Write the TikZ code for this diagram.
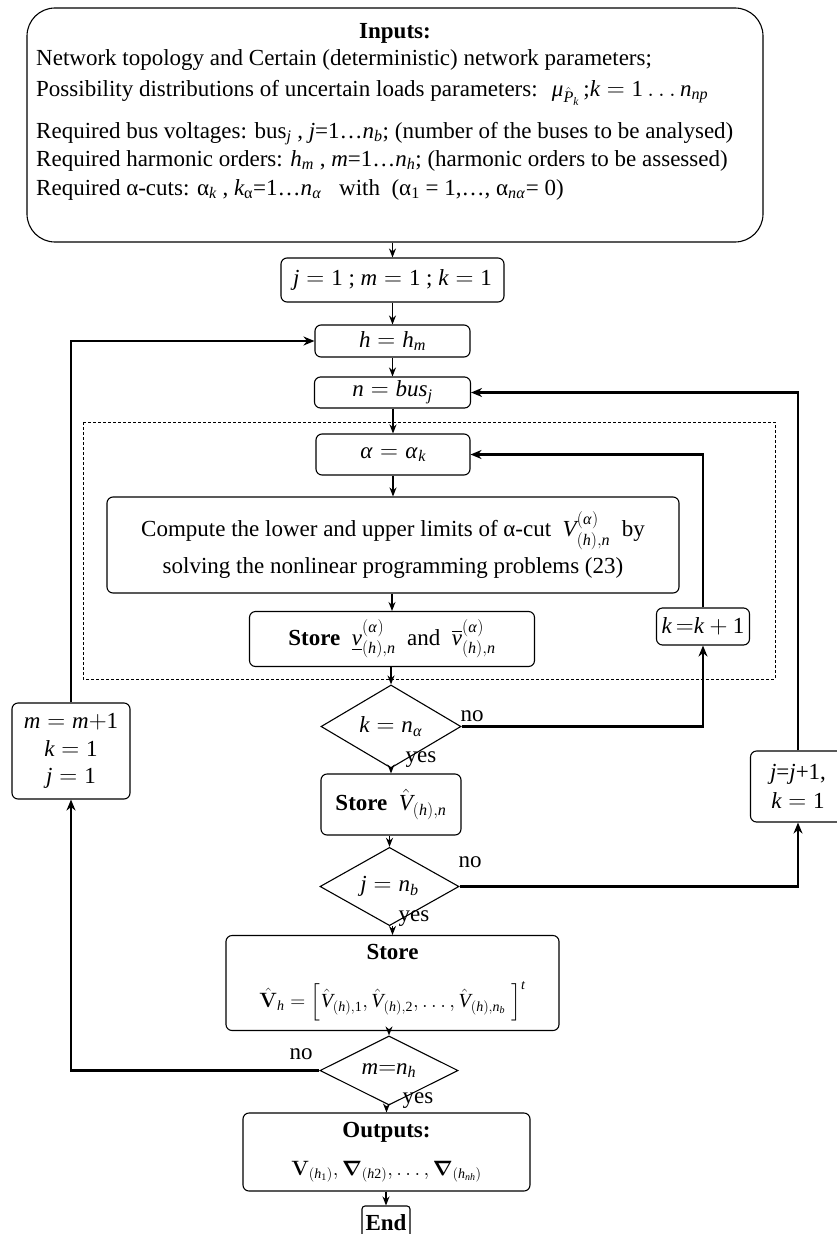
\documentclass[tikz,border=0pt]{standalone}
\usepackage{amsmath}
\usepackage{mathspec}
\setmainfont{Liberation Serif}
\setmathsfont(Digits,Latin,Greek){Liberation Serif}
\usetikzlibrary{shapes.geometric,arrows.meta}
\newcommand{\fs}{\fontsize{23}{27.5}\selectfont}
\tikzset{
 box/.style={draw, line width=1.1pt, rounded corners=6pt, inner sep=0pt, align=center, font=\fs},
 dia/.style={draw, diamond, line width=1.1pt, inner sep=0pt, font=\fs},
 arr/.style={-{Stealth[length=9pt,width=7pt]}, line width=1.3pt},
 loopline/.style={-{Stealth[length=11pt,width=9pt]}, line width=2.4pt},
 lbl/.style={inner sep=0pt, font=\fs},
 inline/.style={inner sep=0pt, anchor=base west, font=\fs},
}
\begin{document}
\begin{tikzpicture}[x=1pt,y=-1pt]
\useasboundingbox (0,0) rectangle (837,1234);
% Inputs
\node[draw, line width=1.1pt, rounded corners=28pt, minimum width=736pt, minimum height=234pt] (inp) at (395,125) {};
\node[inner sep=0pt, anchor=base, font=\fs\bfseries] (inpt) at (395,38) {Inputs:};
\node[inline] (l1) at (36,65) {Network topology and Certain (deterministic) network parameters;};
\node[inline] (l2) at (36,96) {Possibility distributions of uncertain loads parameters: \ $\mu_{\hat{P}_k}$\,;$k=1\ldots n_{np}$};
\node[inline] (l3) at (36,138) {Required bus voltages: bus$_j$ , $j$=1\ldots$n_b$; (number of the buses to be analysed)};
\node[inline] (l4) at (36,166) {Required harmonic orders: $h_m$ , $m$=1\ldots$n_h$; (harmonic orders to be assessed)};
\node[inline] (l5) at (36,195) {Required α-cuts: α$_k$ , $k_{\text{α}}$=1\ldots$n_\alpha$ \ \ with \ (α$_1$ = 1,\ldots, α$_{n\alpha}$= 0)};
% main column
\node[box, minimum width=223pt, minimum height=44pt] (j1) at (392.5,280) {$j=1$ ; $m=1$ ; $k=1$};
\node[box, minimum width=155pt, minimum height=32pt] (hh) at (392.5,341) {$h=h_m$};
\node[box, minimum width=156pt, minimum height=31pt] (nb) at (392.5,392.5) {$n=bus_j$};
\draw[line width=0.9pt, dash pattern=on 3pt off 2pt] (83,422) rectangle (775,679);
\node[box, minimum width=154pt, minimum height=41pt] (al) at (393,454.5) {$\alpha=\alpha_k$};
\node[box, minimum width=572pt, minimum height=96pt, font=\fontsize{23}{37}\selectfont] (cp) at (393,545) {Compute the lower and upper limits of α-cut \ $V^{(\alpha)}_{(h),n}$ \ by\\solving the nonlinear programming problems (23)};
\node[box, minimum width=285pt, minimum height=55pt] (sv) at (392,639) {\textbf{Store} \ $\underline{v}^{(\alpha)}_{(h),n}$ \ and \ $\overline{v}^{(\alpha)}_{(h),n}$};
\node[box, minimum width=93pt, minimum height=37pt] (kk) at (703,626.5) {$k\,{=}k+1$};
\node[dia, minimum width=140pt, minimum height=61pt] (dk) at (391,726.5) {$k=n_\alpha$};
\node[box, minimum width=140pt, minimum height=61pt] (sV) at (391,804.5) {\textbf{Store} \ $\hat{V}_{(h),n}$};
\node[dia, minimum width=139pt, minimum height=55pt] (dj) at (389.5,886.5) {$j=n_b$};
\node[box, minimum width=95pt, minimum height=71pt] (jj) at (798,786.5) {$j$=$j$+1,\\[1pt]$k=1$};
\node[box, minimum width=333pt, minimum height=95pt, font=\fontsize{23}{48}\selectfont] (sH) at (392.5,983) {\textbf{Store}\\{\fontsize{20}{24}\selectfont$\hat{\mathbf{V}}_h=\Big[\hat{V}_{(h),1},\hat{V}_{(h),2},\ldots,\hat{V}_{(h),n_b}\;\Big]^t$}};
\node[dia, minimum width=138pt, minimum height=53pt] (dm) at (389,1070.5) {$m{=}n_h$};
\node[box, minimum width=118pt, minimum height=96pt] (mm) at (71,751) {$m=m{+}1$\\$k=1$\\$j=1$};
\node[box, minimum width=287pt, minimum height=78pt, font=\fontsize{23}{38}\selectfont] (out) at (386.5,1152) {\textbf{Outputs:}\\{\fontsize{20}{24}\selectfont$\mathbf{V}_{(h_1)},\boldsymbol{\nabla}_{(h2)},\ldots,\boldsymbol{\nabla}_{(h_{nh})}$}};
\node[box, minimum width=48pt, minimum height=40pt, rounded corners=3pt] (en) at (386,1226) {};
\node[lbl, font=\fs\bfseries] (ent) at (386,1223) {End};
% labels
\node[lbl] (nok) at (472,716) {no};
\node[lbl] (yesk) at (421,760) {yes};
\node[lbl] (noj) at (470,862) {no};
\node[lbl] (yesj) at (414,919) {yes};
\node[lbl] (nom) at (301,1054) {no};
\node[lbl] (yesm) at (418,1101) {yes};
% spine arrows
\draw[arr] (j1.north |- inp.south) -- (j1.north);
\draw[arr] (hh.north |- j1.south) -- (hh.north);
\draw[arr] (nb.north |- hh.south) -- (nb.north);
\draw[arr] (al.north |- nb.south) -- (al.north);
\draw[arr] (cp.north |- al.south) -- (cp.north);
\draw[arr] (sv.north |- cp.south) -- (sv.north);
\draw[arr] (dk.north |- sv.south) -- (dk.north);
\draw[arr] (sV.north |- dk.south) -- (sV.north);
\draw[arr] (dj.north |- sV.south) -- (dj.north);
\draw[arr] (sH.north |- dj.south) -- (sH.north);
\draw[arr] (dm.north |- sH.south) -- (dm.north);
\draw[arr] (out.north |- dm.south) -- (out.north);
\draw[arr] (en.north |- out.south) -- (en.north);
% loops
\draw[loopline] (dk.east) -- (kk.south |- dk.east) -- (kk.south);
\draw[loopline] (kk.north) -- (kk.north |- al.east) -- (al.east);
\draw[loopline] (dj.east) -- (jj.south |- dj.east) -- (jj.south);
\draw[loopline] (jj.north) -- (jj.north |- nb.east) -- (nb.east);
\draw[loopline] (dm.west) -- (mm.south |- dm.west) -- (mm.south);
\draw[loopline] (mm.north) -- (mm.north |- hh.west) -- (hh.west);
\end{tikzpicture}
\end{document}
